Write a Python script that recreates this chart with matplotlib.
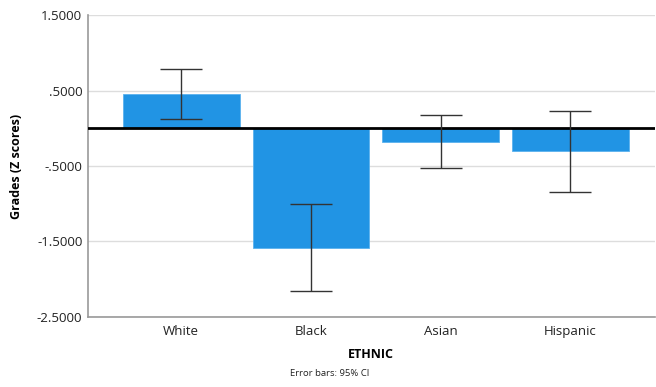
import matplotlib
matplotlib.use("Agg")
import matplotlib.pyplot as plt
import numpy as np

categories = ["White", "Black", "Asian", "Hispanic"]
means = [0.45, -1.58, -0.18, -0.30]
ci_low = [0.125, -2.16, -0.53, -0.84]
ci_high = [0.78, -1.00, 0.175, 0.23]
yticks = [1.5, 0.5, -0.5, -1.5, -2.5]
ytick_labels = ["1.5000", ".5000", "-.5000", "-1.5000", "-2.5000"]

plt.rcParams['font.family'] = ['Open Sans', 'DejaVu Sans']

fig = plt.figure(figsize=(6.56, 3.87), dpi=100)
ax = fig.add_axes([0.134, 0.181, 0.864, 0.780])

x = np.arange(len(categories))
means_a = np.array(means)
yerr = np.array([means_a - np.array(ci_low), np.array(ci_high) - means_a])

ax.bar(x, means, width=0.9, color="#2194e4", edgecolor="#5bb2ee", linewidth=0.6, zorder=2)
ax.errorbar(x, means, yerr=yerr, fmt="none", ecolor="#333333", elinewidth=1.0,
            capsize=15, capthick=1.0, zorder=4)
ax.axhline(0, color="black", linewidth=2, zorder=3)

ax.set_xlim(-0.72, 3.65)
ax.set_ylim(-2.5, 1.5)
ax.set_yticks(yticks)
ax.set_yticklabels(ytick_labels, fontsize=9.5, color="#222222")
ax.set_xticks(x)
ax.set_xticklabels(categories, fontsize=9.5, color="#222222")
ax.tick_params(axis="both", length=0, pad=4)
ax.tick_params(axis="x", pad=6)
ax.yaxis.grid(True, color="#dddddd", linewidth=1, zorder=0)
ax.set_axisbelow(True)
for s in ["top", "right"]:
    ax.spines[s].set_visible(False)
for s in ["left", "bottom"]:
    ax.spines[s].set_color("#999999")
    ax.spines[s].set_linewidth(1.2)

ax.set_ylabel("Grades (Z scores)", fontsize=9, fontweight="bold", labelpad=10)
ax.set_xlabel("ETHNIC", fontsize=9, fontweight="bold", labelpad=7)
fig.text(0.503, 0.022, "Error bars: 95% CI", fontsize=6.8, ha="center", va="bottom", color="#222222")

fig.savefig("out.png", dpi=100)
